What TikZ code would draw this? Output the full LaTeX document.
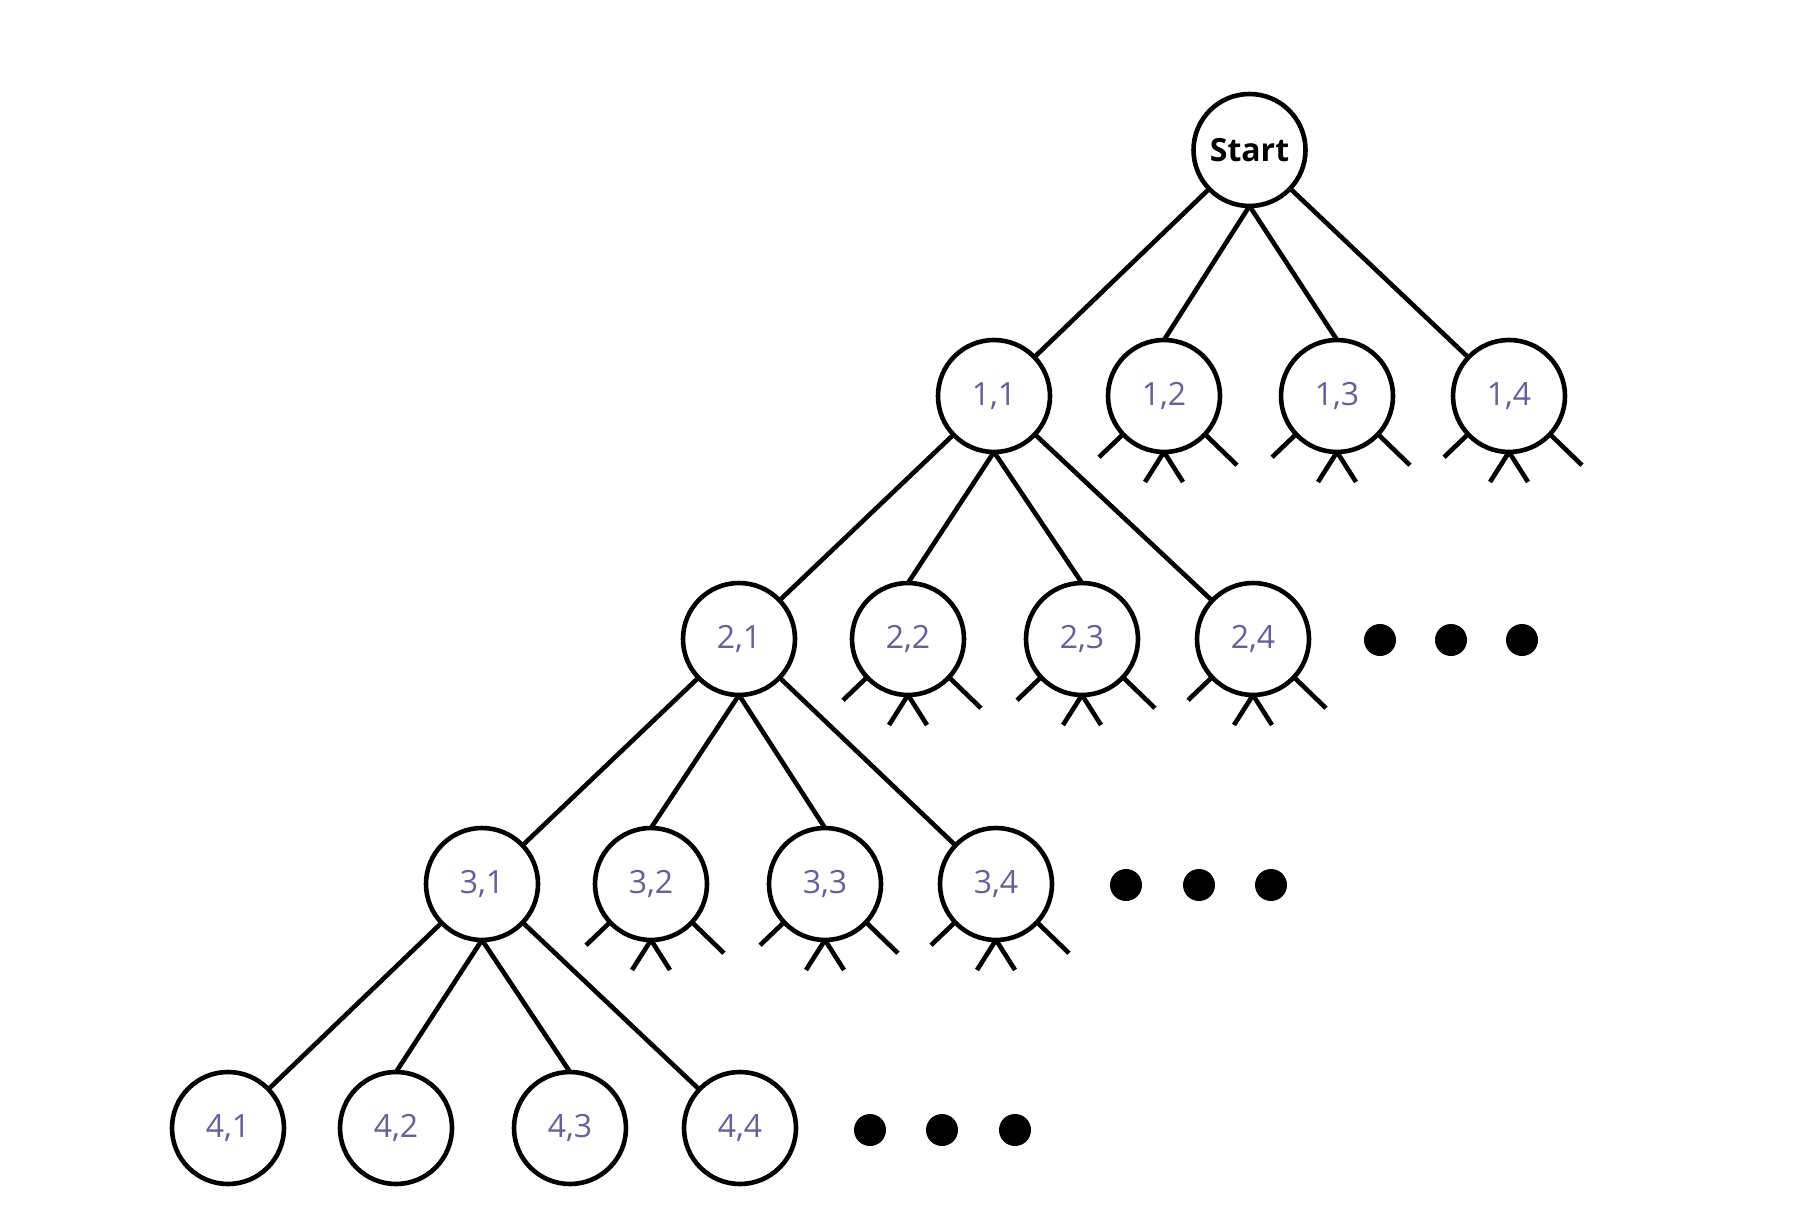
\documentclass[tikz,border=0pt]{standalone}
\usepackage{fontspec}
\setmainfont{Open Sans}
\definecolor{lbl}{RGB}{105,95,150}
\begin{document}
\begin{tikzpicture}[x=1pt,y=-1pt,line width=4.6pt,
  st/.style={circle,draw,minimum size=112pt,inner sep=0pt,outer sep=0pt,
    font=\fontsize{32}{38}\selectfont,text=lbl},
  startnode/.style={st,font=\fontsize{32}{38}\selectfont\bfseries,text=black},
  dotnode/.style={circle,fill,inner sep=0pt,minimum size=32pt}]
\useasboundingbox (0,0) rectangle (1814,1230);
\node[startnode] (S) at (1249.5,150) {Start};
\node[st] (n11) at (994,396) {1,1};
\node[st] (n12) at (1164,396) {1,2};
\node[st] (n13) at (1337,396) {1,3};
\node[st] (n14) at (1509,396) {1,4};
\node[st] (n21) at (739,639) {2,1};
\node[st] (n22) at (908,639) {2,2};
\node[st] (n23) at (1082,639) {2,3};
\node[st] (n24) at (1253,639) {2,4};
\node[st] (n31) at (482,884) {3,1};
\node[st] (n32) at (651,884) {3,2};
\node[st] (n33) at (825,884) {3,3};
\node[st] (n34) at (996,884) {3,4};
\node[st] (n41) at (228,1128) {4,1};
\node[st] (n42) at (396,1128) {4,2};
\node[st] (n43) at (570,1128) {4,3};
\node[st] (n44) at (740,1128) {4,4};
\foreach \p/\c in {S/1,n11/2,n21/3,n31/4}{
  \draw (\p) -- (n\c1);
  \draw (\p.south) -- (n\c2.north);
  \draw (\p.south) -- (n\c3.north);
  \draw (\p) -- (n\c4);
}
\foreach \n in {n12,n13,n14,n22,n23,n24,n32,n33,n34}{
  \draw (\n.-137) -- ++(-24,23);
  \draw (\n.-43) -- ++(32,31);
  \draw (\n.south) -- ++(-19,30);
  \draw (\n.south) -- ++(19,30);
}
\node[dotnode] (d21) at (1380,640) {};
\node[dotnode] (d22) at (1451,640) {};
\node[dotnode] (d23) at (1522,640) {};
\node[dotnode] (d31) at (1126,885) {};
\node[dotnode] (d32) at (1199,885) {};
\node[dotnode] (d33) at (1271,885) {};
\node[dotnode] (d41) at (870,1130) {};
\node[dotnode] (d42) at (942,1130) {};
\node[dotnode] (d43) at (1015,1130) {};
\end{tikzpicture}
\end{document}
